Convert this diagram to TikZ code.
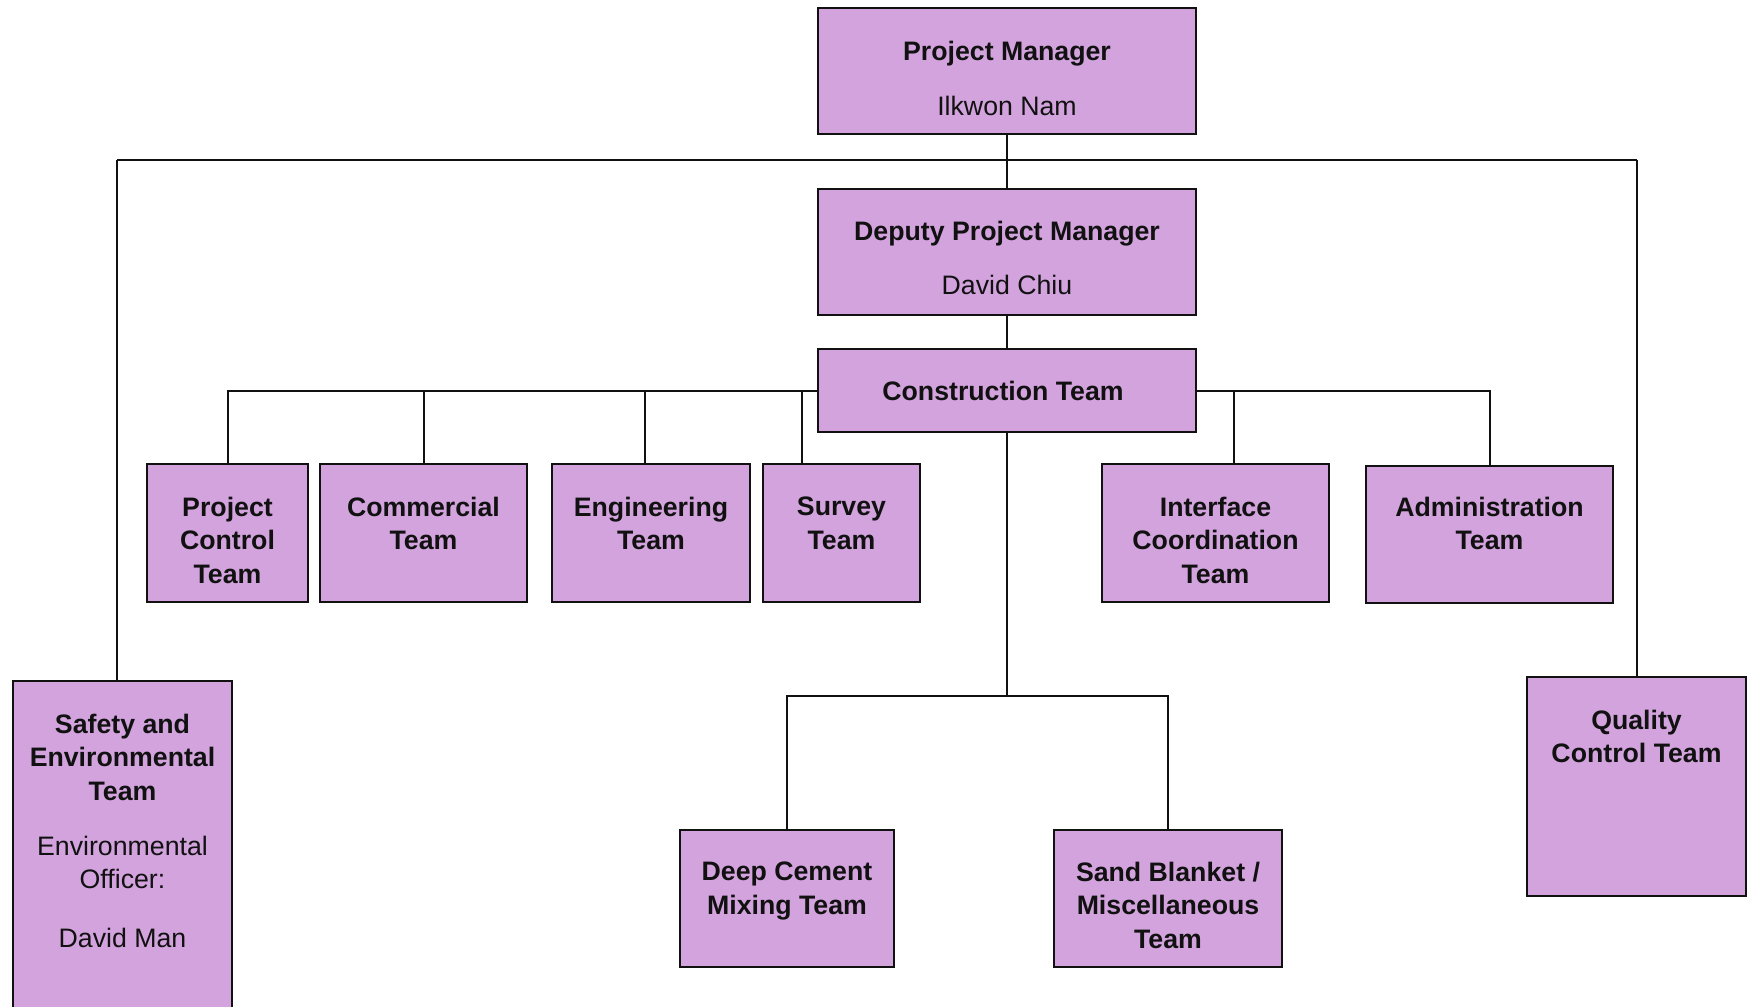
\documentclass[tikz,border=0pt]{standalone}
\usepackage{fontspec}
\setmainfont{Liberation Sans}
\definecolor{boxfill}{RGB}{211,163,221}
\definecolor{ink}{RGB}{17,17,17}
\begin{document}
\begin{tikzpicture}[x=1pt,y=-1pt,
  box/.style={draw=ink, line width=2pt, fill=boxfill, rectangle, inner sep=0pt},
  txt/.style={anchor=north, inner sep=0pt, align=center, text=ink,
    font=\fontsize{26.7pt}{33.4pt}\selectfont\bfseries},
  link/.style={line width=2pt, draw=ink}]
\useasboundingbox (0,0) rectangle (1747,1006);
\clip (0,0) rectangle (1747,1006);

% boxes
\node[box, minimum width=378pt, minimum height=126pt] (pm)  at (1007,71) {};
\node[box, minimum width=378pt, minimum height=126pt] (dpm) at (1007,252) {};
\node[box, minimum width=378pt, minimum height=83pt]  (ct)  at (1007,390.5) {};
\node[box, minimum width=161pt, minimum height=138pt] (pct) at (227.5,533) {};
\node[box, minimum width=207pt, minimum height=138pt] (com) at (423.5,533) {};
\node[box, minimum width=198pt, minimum height=138pt] (eng) at (651,533) {};
\node[box, minimum width=157pt, minimum height=138pt] (sur) at (841.5,533) {};
\node[box, minimum width=227pt, minimum height=138pt] (ifc) at (1215.5,533) {};
\node[box, minimum width=247pt, minimum height=137pt] (adm) at (1489.5,534.5) {};
\node[box, minimum width=214pt, minimum height=137pt] (dcm) at (787,898.5) {};
\node[box, minimum width=228pt, minimum height=137pt] (sbm) at (1168,898.5) {};
\node[box, minimum width=219pt, minimum height=335pt] (saf) at (122.5,848.5) {};
\node[box, minimum width=219pt, minimum height=219pt] (qc)  at (1636,786.5) {};

% texts
\node[txt] (pmt)  at (1007,40.5) {Project Manager\\[21.6pt]{\mdseries Ilkwon Nam}};
\node[txt] (dpmt) at (1007,221) {Deputy Project Manager\\[20.6pt]{\mdseries David Chiu}};
\node[txt] (ctt)  at (1003,380.5) {Construction Team};
\node[txt] (pctt) at (227.5,497) {Project\\Control\\Team};
\node[txt] (comt) at (423.5,497) {Commercial\\Team};
\node[txt] (engt) at (651,497) {Engineering\\Team};
\node[txt] (surt) at (841.5,497) {Survey\\Team};
\node[txt] (ifct) at (1215.5,497) {Interface\\Coordination\\Team};
\node[txt] (admt) at (1489.5,497) {Administration\\Team};
\node[txt] (dcmt) at (787,862) {Deep Cement\\Mixing Team};
\node[txt] (sbmt) at (1168,862) {Sand Blanket /\\Miscellaneous\\Team};
\node[txt] (saft) at (122.5,714) {Safety and\\Environmental\\Team\\[21.6pt]{\mdseries Environmental}\\{\mdseries Officer:}\\[25.6pt]{\mdseries David Man}};
\node[txt] (qct)  at (1636.5,710) {Quality\\Control Team};

% connectors
\coordinate (tl) at (117,160);
\coordinate (tr) at (1637,160);
\draw[link] (pm.south) -- (dpm.north);
\draw[link] (tl) -- (tr);
\draw[link] (tl) -- (tl |- saf.north);
\draw[link] (tr) -- (tr |- qc.north);
\draw[link] (dpm.south) -- (ct.north);
\draw[link] (ct.west) -| (pct.north);
\draw[link] (com.north) -- (com.north |- ct.west);
\draw[link] ([xshift=-6pt]eng.north) -- ([xshift=-6pt]eng.north |- ct.west);
\draw[link] ([xshift=-39.5pt]sur.north) -- ([xshift=-39.5pt]sur.north |- ct.west);
\draw[link] (ct.east) -| (adm.north);
\draw[link] ([xshift=18pt]ifc.north) -- ([xshift=18pt]ifc.north |- ct.east);
\draw[link] (ct.south) -- ++(0,263) coordinate (mj);
\draw[link] (dcm.north) |- (mj) -| (sbm.north);
\end{tikzpicture}
\end{document}
